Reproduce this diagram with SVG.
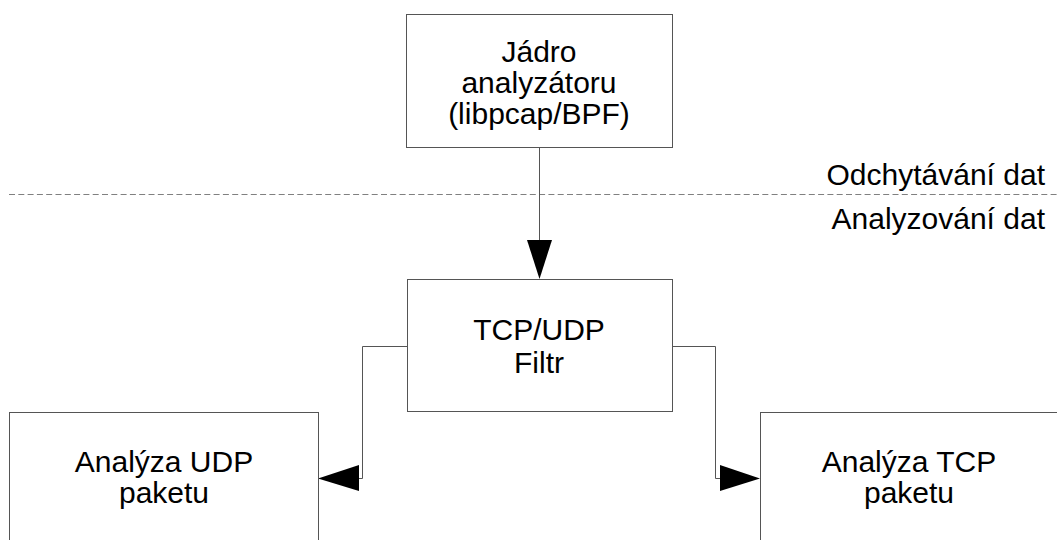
<svg xmlns="http://www.w3.org/2000/svg" width="1057" height="540" viewBox="0 0 1057 540">
<style>
.box{fill:#fff;stroke:#555;stroke-width:1}
.t{font-family:"Liberation Sans",Arial,sans-serif;font-size:30px;fill:#000;text-anchor:middle}
.r{text-anchor:end}
.conn{fill:none;stroke:#555;stroke-width:1}
.head{fill:#000;stroke:none}
</style>
<rect width="1057" height="540" fill="#fff"/>
<line x1="9" y1="194.5" x2="1057" y2="194.5" stroke="#808080" stroke-width="1" stroke-dasharray="6 3.3"/>
<text class="t r" x="1045" y="185">Odchytávání dat</text>
<text class="t r" x="1045" y="229">Analyzování dat</text>
<g id="connectors">
<line class="conn" x1="539.5" y1="147" x2="539.5" y2="242"/>
<polygon class="head" points="527,240 552,240 539.5,279"/>
<polyline class="conn" points="407,346.5 362.5,346.5 362.5,478.5 357,478.5"/>
<polygon class="head" points="359,465 359,491 318,478.5"/>
<polyline class="conn" points="672,346.5 715.5,346.5 715.5,478.5 722,478.5"/>
<polygon class="head" points="720,465 720,491 760,478.5"/>
</g>
<g id="jadro">
<rect class="box" x="406.5" y="14.5" width="266" height="133"/>
<text class="t" x="539" y="62">Jádro</text>
<text class="t" x="539" y="93">analyzátoru</text>
<text class="t" x="539" y="124">(libpcap/BPF)</text>
</g>
<g id="filtr">
<rect class="box" x="407.5" y="279.5" width="265" height="132"/>
<text class="t" x="539" y="340">TCP/UDP</text>
<text class="t" x="539" y="373">Filtr</text>
</g>
<g id="udp">
<rect class="box" x="9.5" y="412.5" width="309" height="140"/>
<text class="t" x="164" y="472">Analýza UDP</text>
<text class="t" x="164" y="503">paketu</text>
</g>
<g id="tcp">
<rect class="box" x="760.5" y="412.5" width="310" height="140"/>
<text class="t" x="909" y="472">Analýza TCP</text>
<text class="t" x="909" y="503">paketu</text>
</g>
</svg>
